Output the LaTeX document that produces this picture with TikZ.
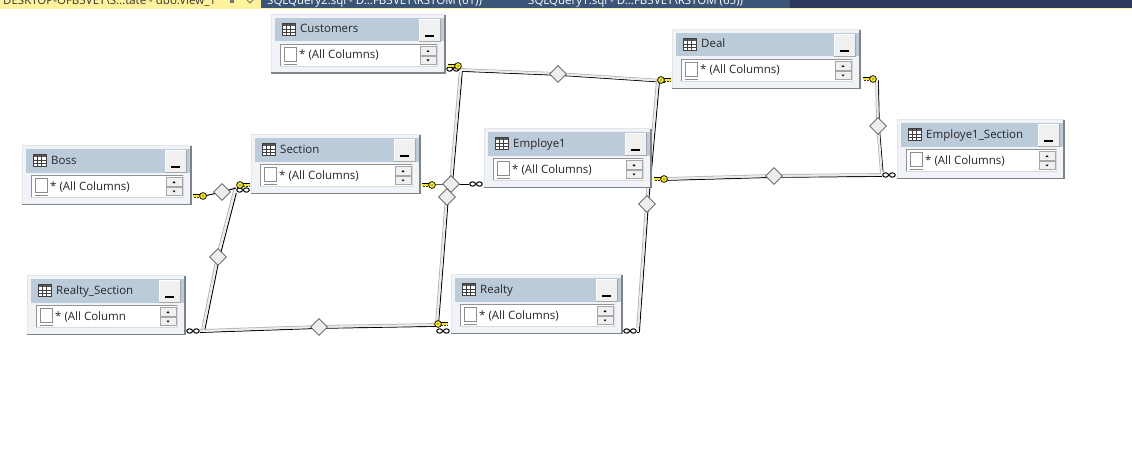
\documentclass[tikz,border=0pt]{standalone}
\usepackage{fontspec}
\setmainfont{Open Sans}
\usetikzlibrary{shapes.geometric,backgrounds}
\definecolor{band}{HTML}{BCCBDA}
\definecolor{panel}{HTML}{F0F4F8}
\definecolor{edgedk}{HTML}{7F8488}
\definecolor{edgelt}{HTML}{E4E6E8}
\definecolor{tabblue}{HTML}{3B5578}
\definecolor{navy}{HTML}{2B3A5C}
\definecolor{tabyellow}{HTML}{FFF29D}
\definecolor{keyyellow}{HTML}{F2E61E}
\definecolor{btn}{HTML}{F0F0F0}
\definecolor{diafill}{HTML}{EDEDED}
\tikzset{
  x=1pt,y=-1pt,
  tablebox/.style={draw=none,fill=panel,inner sep=0pt,outer sep=0pt},
  titletext/.style={anchor=base west,inner sep=0pt,font=\fontsize{11.5}{13}\selectfont,text=black!85},
  coltext/.style={anchor=base west,inner sep=0pt,font=\fontsize{11.5}{13}\selectfont,text=black!85},
  tabtext/.style={anchor=base west,inner sep=0pt,font=\fontsize{11.5}{13}\selectfont},
  joint/.style={diamond,aspect=1,draw=gray!70!black,fill=diafill,line width=.7pt,minimum size=17pt,inner sep=0pt},
}
% table window: id, left, top, right, title, column text
\newcommand{\tablewin}[6]{%
  \pgfmathsetmacro{\tblmx}{(#2+#4)/2}
  \pgfmathsetmacro{\tblwd}{#4-#2}
  \node[tablebox,minimum width=\tblwd pt,minimum height=60pt] (#1) at (\tblmx,#3+30) {};
  \draw[edgelt,line width=1.2pt] (#2+.6,#3+59) -- (#2+.6,#3+.6) -- (#4-.6,#3+.6);
  \draw[edgedk,line width=1.6pt] (#2,#3+59.3) -- (#4-.8,#3+59.3) -- (#4-.8,#3+.6);
  \fill[band] (#2+4,#3+4) rectangle (#4-2,#3+27.5);
  % button
  \fill[btn] (#4-27,#3+5) rectangle (#4-6,#3+27);
  \draw[gray!70,line width=.8pt] (#4-27,#3+27) -- (#4-6,#3+27) -- (#4-6,#3+5);
  \draw[white,line width=.8pt] (#4-27,#3+27) -- (#4-27,#3+5) -- (#4-6,#3+5);
  \draw[black,line width=1.3pt] (#4-21,#3+22) -- (#4-12,#3+22);
  % grid icon
  \fill[white] (#2+11,#3+9) rectangle (#2+24,#3+21);
  \fill[black!65] (#2+11,#3+9) rectangle (#2+24,#3+12);
  \draw[black!75,line width=.7pt] (#2+11,#3+9) rectangle (#2+24,#3+21);
  \draw[black!75,line width=.5pt] (#2+15.3,#3+9) -- (#2+15.3,#3+21) (#2+19.6,#3+9) -- (#2+19.6,#3+21)
     (#2+11,#3+15) -- (#2+24,#3+15) (#2+11,#3+18) -- (#2+24,#3+18);
  \node[titletext] (#1-title) at (#2+29,#3+19) {#5};
  % column list
  \fill[white] (#2+9,#3+30) rectangle (#4-9,#3+52);
  \draw[gray!85,line width=.9pt] (#2+9,#3+52) -- (#2+9,#3+30) -- (#4-9,#3+30);
  \draw[gray!30,line width=.7pt] (#2+9,#3+52) -- (#4-9,#3+52) -- (#4-9,#3+30);
  \fill[white] (#2+13,#3+33) rectangle (#2+25.5,#3+47);
  \draw[gray!90,line width=.6pt] (#2+13,#3+47) -- (#2+13,#3+33) -- (#2+25.5,#3+33) -- (#2+25.5,#3+47) -- cycle;
  \draw[gray!90,line width=.6pt] (#2+13,#3+50.5) -- (#2+25.5,#3+50.5);
  \node[coltext] (#1-col) at (#2+28,#3+45) {#6};
  % scroll buttons
  \fill[btn] (#4-26,#3+32.5) rectangle (#4-10,#3+41);
  \fill[btn] (#4-26,#3+42) rectangle (#4-10,#3+50.5);
  \draw[gray!70,line width=.5pt] (#4-26,#3+32.5) rectangle (#4-10,#3+41) (#4-26,#3+42) rectangle (#4-10,#3+50.5);
  \fill[black] (#4-19.5,#3+38) -- (#4-16.5,#3+38) -- (#4-18,#3+36) -- cycle;
  \fill[black] (#4-19.5,#3+45.5) -- (#4-16.5,#3+45.5) -- (#4-18,#3+47.5) -- cycle;
}
% key: head at (#1,#2), direction #3 (+1 bit to the right, -1 to the left)
\newcommand{\keyicon}[3]{%
  \begin{scope}[shift={(#1,#2)},xscale=#3]
    \fill[keyyellow] (0,-1.4) rectangle (10,1.2);
    \draw[black,line width=.45pt] (2,-1.4) -- (10,-1.4);
    \draw[black!80,line width=.45pt,densely dotted] (3,1.4) -- (10,1.4);
    \fill[keyyellow,draw=black,line width=.7pt] (0,0) circle (3.4);
    \fill[black] (0,0) circle (.7);
  \end{scope}}
% many end: two linked rings, centre (#1,#2)
\newcommand{\manyicon}[2]{%
  \begin{scope}[shift={(#1,#2)}]
    \fill[white] (-7,-2.6) rectangle (7,2.6);
    \draw[black,line width=1pt] (-3.4,0) circle (2.9 and 2.2) (3.4,0) circle (2.9 and 2.2);
  \end{scope}}
% connector: a pale bar with a grey edge on one side, a black edge on the other
\newcommand{\linkbar}[2]{%
  \draw[gray!55,line width=1pt,transform canvas={xshift=-1.4pt,yshift=1.4pt}] (#1) -- (#2);
  \draw[black,line width=1pt,transform canvas={xshift=1.3pt,yshift=-1.3pt}] (#1) -- (#2);
  \draw[white!92!black,line width=1.8pt] (#1) -- (#2);}
\begin{document}
\begin{tikzpicture}
\useasboundingbox (0,0) rectangle (1132,460);
% document tab strip
\fill[tabyellow] (0,0) rectangle (261,9.5);
\fill[tabyellow] (261,8) rectangle (1132,9.5);
\fill[tabblue] (261,0) rectangle (790,8);
\fill[navy] (790,0) rectangle (1132,8);
\begin{scope}
  \clip (0,0) rectangle (1132,8);
  \node[tabtext,text=black!80] (tab1) at (3,5) {DESKTOP-OFB3VET\textbackslash S...tate - dbo.View\_1};
  \node[tabtext,text=white] (tab2) at (267,5) {SQLQuery2.sql - D...FB3VET\textbackslash RSTOM (61))};
  \node[tabtext,text=white] (tab3) at (528,5) {SQLQuery1.sql - D...FB3VET\textbackslash RSTOM (65))};
\end{scope}
\fill[black!55] (230,0) rectangle (234,3);
\draw[black!55,line width=.8pt] (247,0) -- (250,3) -- (253,0);

% tables
\tablewin{customers}{271}{14}{446}{Customers}{* (All Columns)}
\tablewin{deal}{672}{29}{861}{Deal}{* (All Columns)}
\tablewin{boss}{22}{145}{192}{Boss}{* (All Columns)}
\tablewin{section}{251}{134}{421}{Section}{* (All Columns)}
\tablewin{employe}{484}{128}{652}{Employe1}{* (All Columns)}
\tablewin{empsec}{897}{119}{1065}{Employe1\_Section}{* (All Columns)}
\tablewin{rsec}{27}{275}{186}{Realty\_Section}{* (All Column}
\tablewin{realty}{451}{274}{623}{Realty}{* (All Columns)}

% joints
\node[joint] (j1) at (222,192) {};
\node[joint] (j2) at (218,257) {};
\node[joint] (j3) at (319,327) {};
\node[joint] (j4) at (451,184) {};
\node[joint] (j5) at (447,197) {};
\node[joint] (j6) at (558,74) {};
\node[joint] (j7) at (647,204) {};
\node[joint] (j8) at (774,176) {};
\node[joint] (j9) at (878,126) {};

% connector ends and corners
\coordinate (bossend) at (204,196);
\coordinate (secin) at (236,188);
\coordinate (rseccorner) at (203,331);
\coordinate (rsecend) at (198,331);
\coordinate (realtyin) at (437,325);
\coordinate (custcorner) at (461,70);
\coordinate (dealcorner) at (658,81);
\coordinate (dealkey) at (664,81);
\coordinate (realtycorner) at (638,331);
\coordinate (realtyend) at (634,331);
\coordinate (empkey) at (666,179);
\coordinate (escorner) at (882,175);
\coordinate (esend) at (886,175);
\coordinate (dealr) at (877,79);
\coordinate (dealrkey) at (872,79);
\coordinate (seckey) at (432,184);
\coordinate (empin) at (470,184);

\begin{scope}[on background layer]
  \linkbar{rsecend}{rseccorner}
  \linkbar{rseccorner}{j2.center}
  \linkbar{j2.center}{secin}
  \linkbar{rseccorner}{j3.center}
  \linkbar{j3.center}{realtyin}
  \linkbar{custcorner}{j6.center}
  \linkbar{j6.center}{dealkey}
  \linkbar{custcorner}{j4.center}
  \linkbar{j5.center}{realtyin}
  \linkbar{dealcorner}{j7.center}
  \linkbar{j7.center}{realtycorner}
  \linkbar{realtycorner}{realtyend}
  \linkbar{empkey}{j8.center}
  \linkbar{j8.center}{esend}
  \linkbar{dealrkey}{dealr}
  \linkbar{dealr}{j9.center}
  \linkbar{j9.center}{escorner}
  \draw[black,line width=1pt] (bossend) -- (j1.center) -- (secin);
  \draw[black,line width=1pt] (seckey) -- (j4.center) -- (empin);
\end{scope}

% relationship end marks
\manyicon{243}{190}
\manyicon{476}{184}
\manyicon{453}{69}
\manyicon{193}{331}
\manyicon{443}{331}
\manyicon{630}{331}
\manyicon{889}{175}
\keyicon{203}{196}{-1}
\keyicon{240}{185}{1}
\keyicon{432}{185}{-1}
\keyicon{458}{66}{-1}
\keyicon{661}{80}{1}
\keyicon{873}{79}{-1}
\keyicon{664}{179}{-1}
\keyicon{438}{324}{1}
\end{tikzpicture}
\end{document}
